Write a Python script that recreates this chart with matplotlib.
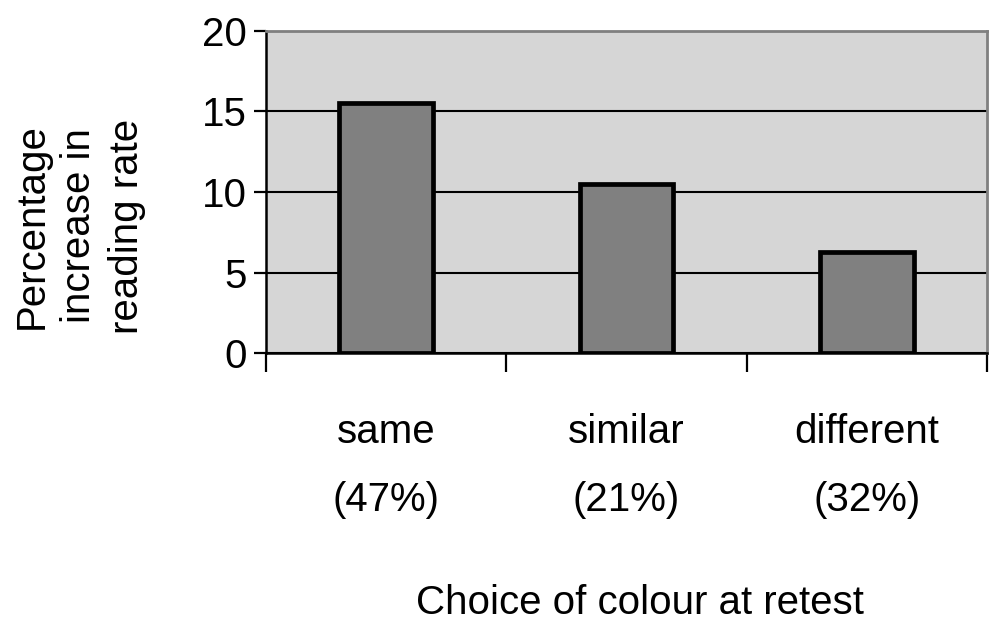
import matplotlib.pyplot as plt
import numpy as np

plt.rcParams['font.family'] = ['Liberation Sans', 'DejaVu Sans']

categories = ['same', 'similar', 'different']
shares = ['(47%)', '(21%)', '(32%)']
increase = [15.5, 10.5, 6.3]
y_ticks = [0, 5, 10, 15, 20]

fig = plt.figure(figsize=(9.94, 6.23), dpi=100)
ax = fig.add_axes([266 / 994, 1 - 353 / 623, 721 / 994, 322 / 623])

x = np.arange(len(categories))
ax.set_facecolor('#d6d6d6')
ax.bar(x, increase, width=0.39, color='#808080', edgecolor='black', linewidth=3.4, zorder=3)

ax.set_xlim(-0.5, len(categories) - 0.5)
ax.set_ylim(0, 20)
ax.set_yticks(y_ticks)
ax.set_yticklabels([str(t) for t in y_ticks], fontsize=29)
ax.yaxis.grid(True, color='black', linewidth=1.5, zorder=1)
ax.set_axisbelow(True)

# category boundaries as ticks below the axis
ax.set_xticks(np.arange(len(categories) + 1) - 0.5)
ax.set_xticklabels([])
ax.tick_params(axis='x', length=14, width=1.6, direction='out')
ax.tick_params(axis='y', length=9, width=1.6, direction='out', pad=5)

for i, (c, s) in enumerate(zip(categories, shares)):
    ax.text(i, -4.9, c, ha='center', va='center', fontsize=29, clip_on=False)
    ax.text(i, -9.1, s, ha='center', va='center', fontsize=29, clip_on=False)

for side in ['top', 'right']:
    ax.spines[side].set_color('#808080')
    ax.spines[side].set_linewidth(2)
for side in ['left', 'bottom']:
    ax.spines[side].set_color('black')
    ax.spines[side].set_linewidth(1.8)

fig.text(640 / 994, 1 - 603 / 623, 'Choice of colour at retest', ha='center', va='center', fontsize=29)
fig.text(79 / 994, 1 - 226 / 623, 'Percentage\nincrease in\nreading rate', ha='center', va='center',
         rotation=90, fontsize=29, linespacing=1.32)

fig.savefig('out.png', dpi=100)
